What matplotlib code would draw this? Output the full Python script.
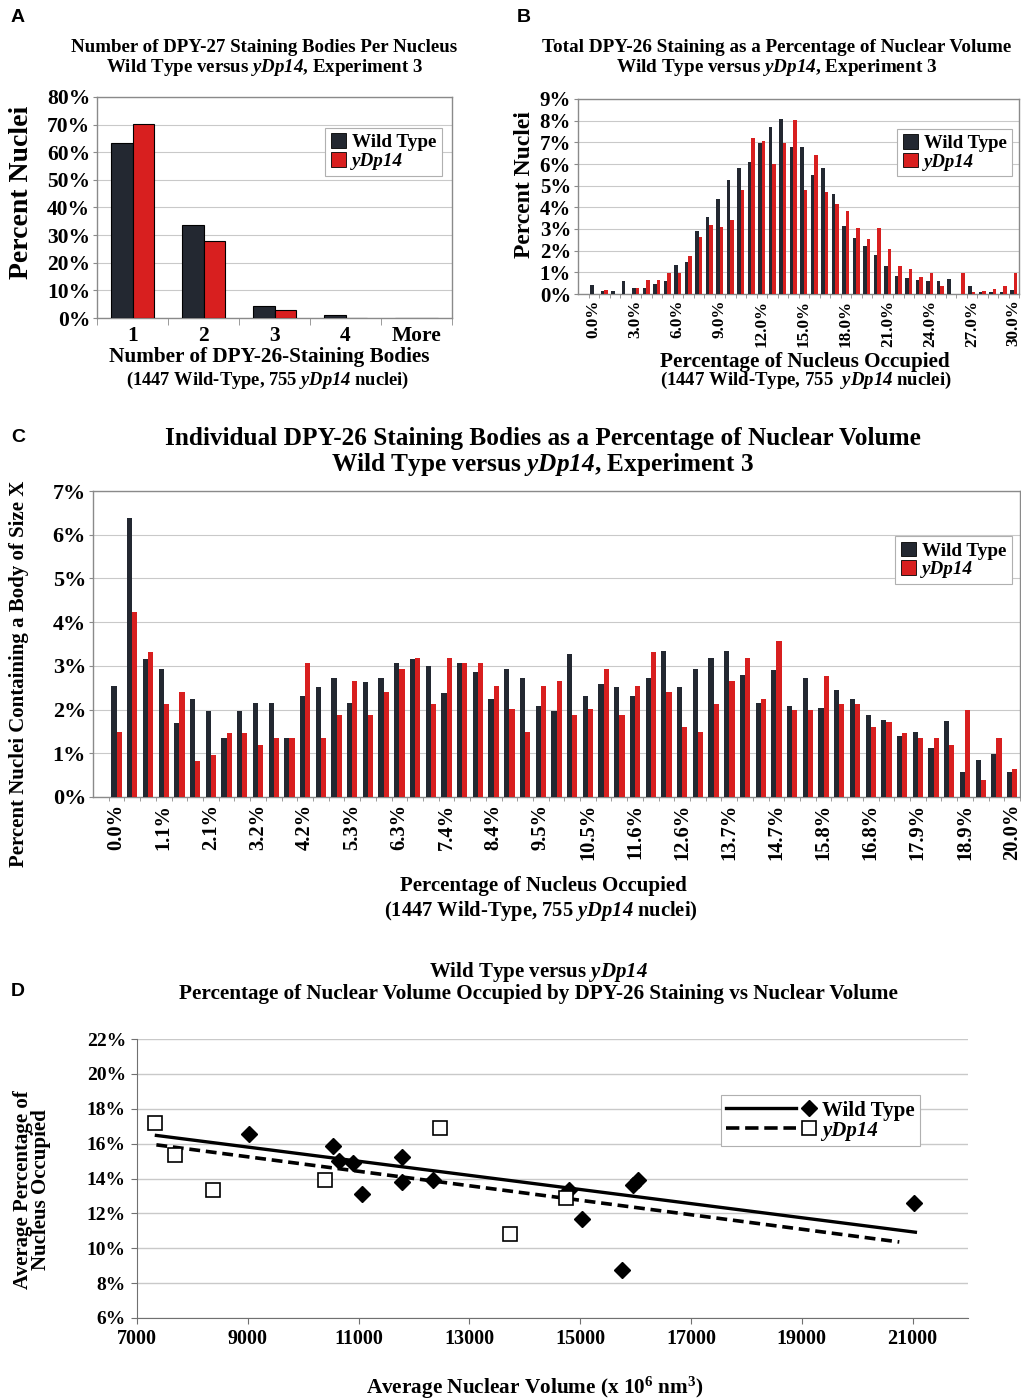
import numpy as np
import matplotlib.pyplot as plt
from matplotlib.lines import Line2D
from matplotlib.patches import Patch
from matplotlib.legend_handler import HandlerBase

plt.rcParams['font.family'] = ['Liberation Serif', 'DejaVu Serif']
plt.rcParams['font.weight'] = 'bold'
plt.rcParams['mathtext.fontset'] = 'custom'
plt.rcParams['mathtext.rm'] = 'Liberation Serif:weight=bold'
plt.rcParams['mathtext.it'] = 'Liberation Serif:style=italic:weight=bold'
plt.rcParams['mathtext.bf'] = 'Liberation Serif:weight=bold'
# \mathsf used for italic gene names so that digits stay italic too
plt.rcParams['mathtext.sf'] = 'Liberation Serif:style=italic:weight=bold'

DARK = '#232831'
RED = '#d81f1f'
GRID = '#c9c9c9'
FRAME = '#8a8a8a'
GENE = '$\\mathsf{yDp14}$'

# ---- panel A: bodies per nucleus
a_cats = ['1', '2', '3', '4', 'More']
a_wt = [63.5, 33.5, 4.5, 1.0, 0.0]
a_dp = [70.2, 28.0, 3.0, 0.0, 0.0]

# ---- panel B: total staining, bins of 0.75%
b_labels = ['0.0%', '3.0%', '6.0%', '9.0%', '12.0%', '15.0%', '18.0%',
            '21.0%', '24.0%', '27.0%', '30.0%']
b_wt = [0.43, 0.12, 0.12, 0.58, 0.3, 0.3, 0.45, 0.6, 1.35, 1.5,
        2.9, 3.55, 4.4, 5.25, 5.8, 6.1, 6.95, 7.7, 8.1, 6.8,
        6.8, 5.5, 5.8, 4.6, 3.15, 2.6, 2.2, 1.8, 1.3, 0.85,
        0.75, 0.65, 0.6, 0.6, 0.7, 0.0, 0.35, 0.1, 0.08, 0.1, 0.2]
b_dp = [0.0, 0.18, 0.0, 0.0, 0.3, 0.65, 0.65, 0.95, 0.95, 1.75,
        2.65, 3.2, 3.1, 3.4, 4.8, 7.2, 7.05, 6.0, 6.95, 8.05,
        4.8, 6.4, 4.7, 4.15, 3.85, 3.05, 2.55, 3.05, 2.1, 1.3,
        1.15, 0.8, 0.95, 0.35, 0.0, 0.95, 0.1, 0.12, 0.25, 0.35, 0.95]

# ---- panel C: individual bodies
c_labels = ['0.0%', '1.1%', '2.1%', '3.2%', '4.2%', '5.3%', '6.3%', '7.4%',
            '8.4%', '9.5%', '10.5%', '11.6%', '12.6%', '13.7%', '14.7%',
            '15.8%', '16.8%', '17.9%', '18.9%', '20.0%']
c_wt = [2.53, 6.38, 3.15, 2.93, 1.69, 2.25, 1.97, 1.34, 1.97, 2.16,
        2.16, 1.34, 2.31, 2.51, 2.72, 2.16, 2.64, 2.72, 3.07, 3.15,
        3.0, 2.37, 3.07, 2.87, 2.25, 2.92, 2.72, 2.09, 1.97, 3.27,
        2.31, 2.59, 2.51, 2.31, 2.72, 3.35, 2.51, 2.92, 3.19, 3.35,
        2.79, 2.16, 2.91, 2.09, 2.72, 2.03, 2.44, 2.24, 1.88, 1.77,
        1.4, 1.48, 1.12, 1.75, 0.57, 0.84, 0.99, 0.57]
c_dp = [1.48, 4.23, 3.32, 2.13, 2.41, 0.82, 0.95, 1.47, 1.47, 1.2,
        1.35, 1.35, 3.06, 1.35, 1.88, 2.65, 1.88, 2.41, 2.93, 3.17,
        2.13, 3.17, 3.06, 3.06, 2.53, 2.01, 1.48, 2.53, 2.65, 1.88,
        2.01, 2.92, 1.88, 2.53, 3.32, 2.41, 1.6, 1.48, 2.13, 2.65,
        3.17, 2.25, 3.57, 2.0, 2.0, 2.77, 2.12, 2.12, 1.6, 1.71,
        1.46, 1.34, 1.34, 1.18, 2.0, 0.4, 1.34, 0.65]

# ---- panel D: occupancy vs nuclear volume
d_wt_x = [9020, 10530, 10650, 10900, 11055, 11780, 11780, 12350,
          14790, 15030, 15750, 15950, 16040, 21030]
d_wt_y = [16.56, 15.89, 15.03, 14.88, 13.09, 15.26, 13.79, 13.89,
          13.32, 11.66, 8.77, 13.6, 13.89, 12.61]
d_dp_x = [7330, 7690, 8380, 10400, 12470, 13730, 14750]
d_dp_y = [17.17, 15.32, 13.32, 13.89, 16.9, 10.82, 12.88]
# trend lines as drawn (start, end)
d_wt_trend_x = [7350, 21050]
d_wt_trend_y = [16.47, 10.92]
d_dp_trend_x = [7350, 20760]
d_dp_trend_y = [15.93, 10.36]

W, H = 1021, 1400
fig = plt.figure(figsize=(W / 100, H / 100), dpi=100)


def px_axes(l, t, r, b):
    return fig.add_axes([l / W, 1 - b / H, (r - l) / W, (b - t) / H])


def ptext(x, y, s, **kw):
    kw.setdefault('ha', 'center')
    kw.setdefault('va', 'center')
    return fig.text(x / W, 1 - y / H, s, **kw)


def frame(ax):
    for s in ax.spines.values():
        s.set_color(FRAME)
        s.set_linewidth(1.0)
    ax.yaxis.grid(True, color=GRID, lw=0.8)
    ax.set_axisbelow(True)
    ax.tick_params(axis='y', length=3, color=FRAME, pad=2)


def bar_legend(ax, anchor, fs):
    leg = ax.legend(handles=[Patch(facecolor=DARK, edgecolor='black', lw=0.6),
                             Patch(facecolor=RED, edgecolor='black', lw=0.6)],
                    labels=['Wild Type', 'yDp14'], loc='upper left',
                    bbox_to_anchor=anchor, fontsize=fs, fancybox=False,
                    framealpha=1, edgecolor='#b0b0b0', handlelength=0.8,
                    handleheight=0.8, handletextpad=0.3, borderpad=0.3,
                    labelspacing=0.05)
    leg.get_frame().set_linewidth(0.8)
    leg.get_texts()[1].set_style('italic')
    return leg


# ================= A =================
ax = px_axes(97, 97, 452, 318)
x = np.arange(len(a_cats))
w = 0.3
ax.bar(x - w / 2, a_wt, w, color=DARK, edgecolor='black', lw=0.8, zorder=3)
ax.bar(x + w / 2, a_dp, w, color=RED, edgecolor='black', lw=0.8, zorder=3)
ax.set_xlim(-0.5, len(a_cats) - 0.5)
ax.set_ylim(0, 80)
ax.set_yticks(range(0, 81, 10))
ax.set_yticklabels([f'{v}%' for v in range(0, 81, 10)], fontsize=15.5)
ax.set_xticks(x)
ax.set_xticklabels(a_cats, fontsize=15.5)
ax.set_xticks(np.arange(-0.5, len(a_cats)), minor=True)
ax.tick_params(axis='x', which='major', length=0, pad=6)
ax.tick_params(axis='x', which='minor', length=5, color=FRAME)
frame(ax)
bar_legend(ax, (0.615, 0.905), 13.8)

ptext(18, 18, 'A', fontsize=14, family='Liberation Sans')
ptext(264, 48, 'Number of DPY-27 Staining Bodies Per Nucleus', fontsize=13.6)
ptext(264, 68, f'Wild Type versus {GENE}, Experiment 3', fontsize=13.6)
ptext(22, 192, 'Percent Nuclei', rotation=90, fontsize=20)
ptext(269, 357, 'Number of DPY-26-Staining Bodies', fontsize=15.3)
ptext(268, 380, f'(1447 Wild-Type, 755 {GENE} nuclei)', fontsize=13.3)

# ================= B =================
ax = px_axes(578, 99, 1019, 294)
x = np.arange(len(b_wt))
w = 0.33
ax.bar(x - w / 2, b_wt, w, color=DARK, lw=0, zorder=3)
ax.bar(x + w / 2, b_dp, w, color=RED, lw=0, zorder=3)
ax.set_xlim(-1.5, len(b_wt) - 0.5)
ax.set_ylim(0, 9)
ax.set_yticks(range(0, 10))
ax.set_yticklabels([f'{v}%' for v in range(0, 10)], fontsize=15)
ax.set_xticks(x[::4])
ax.set_xticklabels(b_labels, rotation=90, fontsize=12.3)
ax.set_xticks(np.arange(-0.5, len(b_wt)), minor=True)
ax.tick_params(axis='x', which='major', length=0, pad=4)
ax.tick_params(axis='x', which='minor', length=3, color=FRAME)
frame(ax)
bar_legend(ax, (0.703, 0.895), 13.5)

ptext(524, 18, 'B', fontsize=14, family='Liberation Sans')
ptext(777, 48, 'Total DPY-26 Staining as a Percentage of Nuclear Volume', fontsize=13.8)
ptext(777, 68, f'Wild Type versus {GENE}, Experiment 3', fontsize=13.8)
ptext(524, 185, 'Percent Nuclei', rotation=90, fontsize=17)
ptext(805, 362, 'Percentage of Nucleus Occupied', fontsize=15.2)
ptext(806, 380, f'(1447 Wild-Type, 755  {GENE} nuclei)', fontsize=13.5)

# ================= C =================
ax = px_axes(93, 491, 1020, 797)
x = np.arange(len(c_wt))
w = 0.33
ax.bar(x - w / 2, c_wt, w, color=DARK, lw=0, zorder=3)
ax.bar(x + w / 2, c_dp, w, color=RED, lw=0, zorder=3)
ax.set_xlim(-1.5, len(c_wt) - 0.5)
ax.set_ylim(0, 7)
ax.set_yticks(range(0, 8))
ax.set_yticklabels([f'{v}%' for v in range(0, 8)], fontsize=16)
ax.set_xticks(x[::3])
ax.set_xticklabels(c_labels, rotation=90, fontsize=14.8)
ax.set_xticks(np.arange(-0.5, len(c_wt)), minor=True)
ax.tick_params(axis='x', which='major', length=0, pad=5)
ax.tick_params(axis='x', which='minor', length=3, color=FRAME)
frame(ax)
bar_legend(ax, (0.855, 0.885), 13.8)

ptext(18, 437, 'C', fontsize=14, family='Liberation Sans')
ptext(543, 439, 'Individual DPY-26 Staining Bodies as a Percentage of Nuclear Volume',
      fontsize=18.2)
ptext(543, 464, f'Wild Type versus {GENE}, Experiment 3', fontsize=18.2)
ptext(19, 674, 'Percent Nuclei Containing a Body of Size X', rotation=90, fontsize=15)
ptext(543, 886, 'Percentage of Nucleus Occupied', fontsize=15)
ptext(541, 911, f'(1447 Wild-Type, 755 {GENE} nuclei)', fontsize=14.8)

# ================= D =================
ax = px_axes(137, 1039, 968, 1318)
ax.plot(d_wt_trend_x, d_wt_trend_y, color='black', lw=2.4, zorder=3)
ax.plot(d_dp_trend_x, d_dp_trend_y, color='black', lw=2.6, ls=(0, (3, 1.6)), zorder=3)
ax.plot(d_wt_x, d_wt_y, 'D', color='black', ms=8, zorder=4)
ax.plot(d_dp_x, d_dp_y, 's', mfc='white', mec='black', mew=1.2, ms=10, zorder=4)
ax.set_xlim(7000, 22000)
ax.set_ylim(6, 22)
ax.set_xticks(range(7000, 21001, 2000))
ax.set_xticklabels([str(v) for v in range(7000, 21001, 2000)], fontsize=14.5)
ax.set_yticks(range(6, 23, 2))
ax.set_yticklabels([f'{v}%' for v in range(6, 23, 2)], fontsize=14)
for s in ['top', 'right']:
    ax.spines[s].set_visible(False)
for s in ['left', 'bottom']:
    ax.spines[s].set_color('#707070')
ax.yaxis.grid(True, color=GRID, lw=1.0)
ax.set_axisbelow(True)
ax.tick_params(length=4, color='#707070', pad=4)


class LineThenMarker(HandlerBase):
    def create_artists(self, legend, orig, xd, yd, width, height, fontsize, trans):
        line, mk = orig
        y = height / 2 - yd
        ln = Line2D([-xd, -xd + 0.8 * width], [y, y], color='black',
                    lw=line.get_linewidth(), ls=line.get_linestyle(), transform=trans)
        m = Line2D([-xd + 0.95 * width], [y], ls='none', marker=mk.get_marker(),
                   mfc=mk.get_markerfacecolor(), mec='black', mew=mk.get_markeredgewidth(),
                   ms=mk.get_markersize(), transform=trans)
        return [ln, m]


h_wt = (Line2D([], [], color='black', lw=2.4),
        Line2D([], [], marker='D', color='black', ms=8, ls='none'))
h_dp = (Line2D([], [], color='black', lw=2.6, ls=(0, (3, 1.6))),
        Line2D([], [], marker='s', mfc='white', mec='black', mew=1.2, ms=10, ls='none'))
leg = ax.legend([h_wt, h_dp], ['Wild Type', 'yDp14'], loc='upper left',
                bbox_to_anchor=(0.69, 0.835), fontsize=15, fancybox=False,
                framealpha=1, edgecolor='#b0b0b0', handlelength=4.2,
                handletextpad=0.4, borderpad=0.25, labelspacing=0.0,
                handler_map={tuple: LineThenMarker()})
leg.get_frame().set_linewidth(0.8)
leg.get_texts()[1].set_style('italic')

ptext(18, 992, 'D', fontsize=14, family='Liberation Sans')
ptext(538, 972, f'Wild Type versus {GENE}', fontsize=15)
ptext(538, 994, 'Percentage of Nuclear Volume Occupied by DPY-26 Staining vs Nuclear Volume',
      fontsize=15.2)
ptext(32, 1190, 'Average Percentage of\nNucleus Occupied', rotation=90, fontsize=15,
      linespacing=0.85)
ptext(535, 1388, 'Average Nuclear Volume (x 10$^{6}$ nm$^{3}$)', fontsize=15.3)

fig.savefig('out.png', dpi=100)
